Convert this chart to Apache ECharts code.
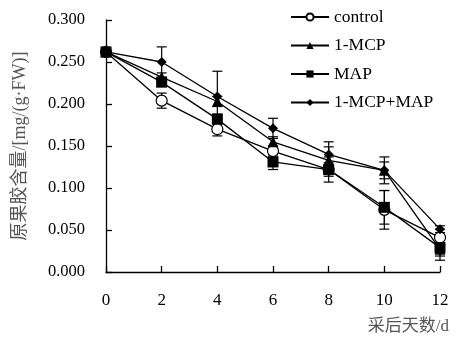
<!DOCTYPE html>
<html><head><meta charset="utf-8">
<script src="https://cdn.jsdelivr.net/npm/echarts@6/dist/echarts.min.js"></script>
<style>html,body{margin:0;padding:0;background:#fff}#c{width:468px;height:343px}</style>
</head><body><div id="c"></div>
<script>
var days = [0, 2, 4, 6, 8, 10, 12];
var yTicks = [0, 0.05, 0.10, 0.15, 0.20, 0.25, 0.30];
var seriesNames = ['control', '1-MCP', 'MAP', '1-MCP+MAP'];
var controlVals = [0.262, 0.204, 0.170, 0.144, 0.122, 0.074, 0.041];
var mcpVals     = [0.262, 0.232, 0.203, 0.155, 0.133, 0.121, 0.027];
var mapVals     = [0.262, 0.226, 0.182, 0.131, 0.122, 0.077, 0.029];
var mcpMapVals  = [0.262, 0.250, 0.209, 0.171, 0.140, 0.121, 0.051];
var controlErr = [0, 0.009, 0.008, 0.006, 0.008, 0.023, 0.010];
var mcpErr     = [0, 0.005, 0.006, 0.006, 0.016, 0.010, 0.008];
var mapErr     = [0, 0.005, 0.006, 0.009, 0.015, 0.020, 0.015];
var mcpMapErr  = [0, 0.018, 0.030, 0.012, 0.015, 0.016, 0.004];

var allVals = [controlVals, mcpVals, mapVals, mcpMapVals];
var allErr = [controlErr, mcpErr, mapErr, mcpMapErr];
var symbols = ['circle', 'triangle', 'rect', 'diamond'];
var serif = '"Liberation Serif","Times New Roman",serif';
var cjk = '"Liberation Serif","Noto Sans CJK SC",serif';

var series = [];
allVals.forEach(function (vals, i) {
  series.push({
    type: 'custom',
    silent: true,
    z: 1,
    data: days.map(function (d, j) { return [d, vals[j] - allErr[i][j], vals[j] + allErr[i][j]]; }),
    renderItem: function (params, api) {
      var lo = api.coord([api.value(0), api.value(1)]);
      var hi = api.coord([api.value(0), api.value(2)]);
      var w = 5;
      var st = { stroke: '#000', lineWidth: 1.2 };
      return { type: 'group', children: [
        { type: 'line', shape: { x1: hi[0], y1: hi[1], x2: lo[0], y2: lo[1] }, style: st },
        { type: 'line', shape: { x1: hi[0] - w, y1: hi[1], x2: hi[0] + w, y2: hi[1] }, style: st },
        { type: 'line', shape: { x1: lo[0] - w, y1: lo[1], x2: lo[0] + w, y2: lo[1] }, style: st }
      ]};
    }
  });
});
allVals.forEach(function (vals, i) {
  series.push({
    name: seriesNames[i],
    type: 'line',
    z: 3,
    symbol: symbols[i],
    symbolSize: symbols[i] === 'diamond' ? 10 : 11,
    showAllSymbol: true,
    lineStyle: { color: '#000', width: 1.3 },
    itemStyle: { color: i === 0 ? '#fff' : '#000', borderColor: '#000', borderWidth: i === 0 ? 1.2 : 0 },
    data: days.map(function (d, j) { return [d, vals[j]]; })
  });
});

var chart = echarts.init(document.getElementById('c'));
chart.setOption({
  animation: false,
  backgroundColor: '#fff',
  grid: { left: 106, right: 28, top: 20, bottom: 71 },
  legend: {
    orient: 'vertical', left: 285, top: 3, itemGap: 10.5,
    itemWidth: 38, itemHeight: 9,
    data: seriesNames,
    textStyle: { fontFamily: serif, fontSize: 17.5, color: '#000' }
  },
  xAxis: {
    type: 'value', min: 0, max: 12, interval: 2,
    name: '采后天数/d', nameLocation: 'end',
    nameGap: 0,
    nameTextStyle: { color: '#555', fontSize: 17, fontFamily: cjk, align: 'right', verticalAlign: 'top', padding: [46, -9, 0, 0] },
    axisLine: { lineStyle: { color: '#000', width: 1.3 } },
    axisTick: { inside: true, length: 6, lineStyle: { color: '#000', width: 1.3 } },
    axisLabel: { color: '#000', fontFamily: serif, fontSize: 17, margin: 20 },
    splitLine: { show: false }
  },
  yAxis: {
    type: 'value', min: 0, max: 0.3, interval: 0.05,
    name: '原果胶含量/[mg/(g·FW)]', nameLocation: 'middle', nameGap: 77,
    nameRotate: 90,
    nameTextStyle: { color: '#555', fontSize: 18, fontFamily: cjk },
    axisLine: { show: true, lineStyle: { color: '#000', width: 1.3 } },
    axisTick: { show: true, inside: true, length: 6, lineStyle: { color: '#000', width: 1.3 } },
    axisLabel: { color: '#000', fontFamily: serif, fontSize: 16.5, margin: 21, formatter: function (v) { return v.toFixed(3); } },
    splitLine: { show: false }
  },
  series: series
});
</script>
</body></html>
